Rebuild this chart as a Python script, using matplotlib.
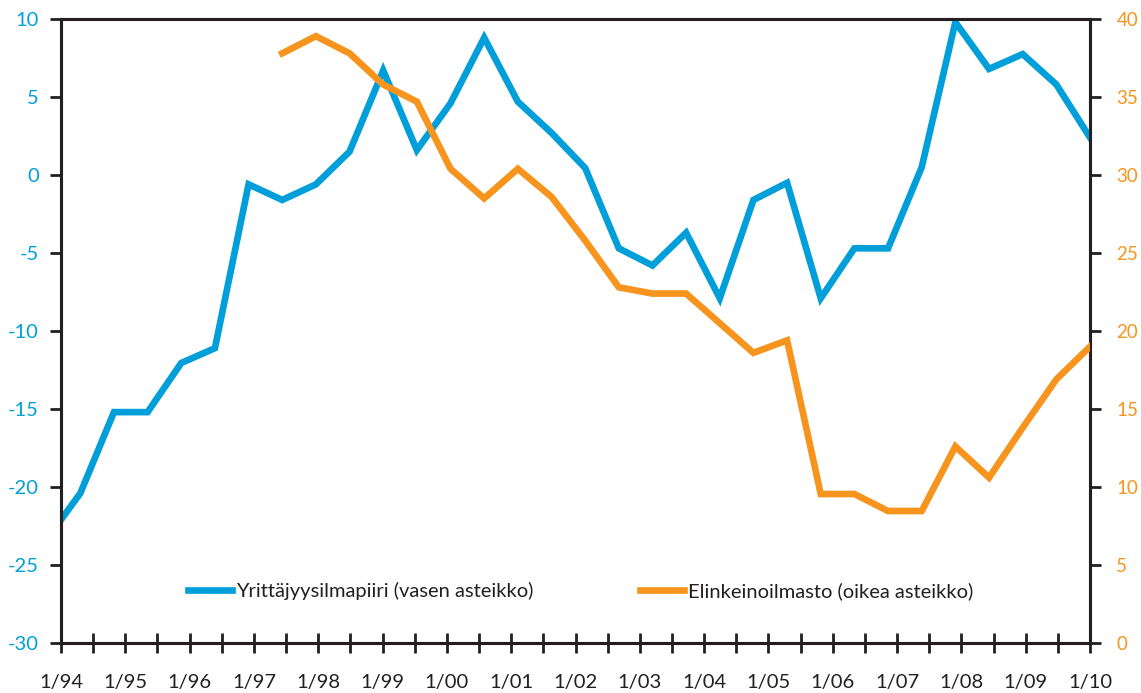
import numpy as np
import matplotlib
matplotlib.use("Agg")
import matplotlib.pyplot as plt

plt.rcParams['font.family'] = ['Lato', 'DejaVu Sans']

# x positions (years) of semi-annual observations
x_start, x_end = 1994.3, 2010.0
n_obs = 31
blue_first = (1994.0, -22.1)  # value where line meets the left axis
blue_vals = [-20.4, -15.2, -15.2, -12.05, -11.1, -0.6, -1.6, -0.6, 1.5, 6.7,
             1.6, 4.6, 8.8, 4.7, 2.7, 0.45, -4.7, -5.8, -3.7, -7.9,
             -1.6, -0.5, -7.9, -4.7, -4.7, 0.5, 9.8, 6.8, 7.75, 5.8, 2.4]
orange_start_idx = 6
orange_vals = [37.8, 38.9, 37.8, 35.8, 34.7, 30.4, 28.5, 30.4, 28.6, 25.8,
               22.8, 22.4, 22.4, 20.5, 18.6, 19.4, 9.55, 9.55, 8.46, 8.46,
               12.6, 10.6, 13.8, 16.9, 19.0]
year_labels = ["1/94", "1/95", "1/96", "1/97", "1/98", "1/99", "1/00", "1/01",
               "1/02", "1/03", "1/04", "1/05", "1/06", "1/07", "1/08", "1/09", "1/10"]
left_ticks = [10, 5, 0, -5, -10, -15, -20, -25, -30]
right_ticks = [40, 35, 30, 25, 20, 15, 10, 5, 0]
label_blue = "Yrittäjyysilmapiiri (vasen asteikko)"
label_orange = "Elinkeinoilmasto (oikea asteikko)"

BLUE = "#009FDA"
ORANGE = "#F7941D"

xs = np.linspace(x_start, x_end, n_obs)

fig = plt.figure(figsize=(11.41, 6.93), dpi=100)
ax = fig.add_axes([61/1141, 50/693, (1090-61)/1141, (643-19)/693])
ax2 = ax.twinx()

bx = np.concatenate([[blue_first[0]], xs])
by = np.concatenate([[blue_first[1]], blue_vals])
l1, = ax.plot(bx, by, color=BLUE, lw=4.8, solid_joinstyle='miter', label=label_blue, zorder=3)
l2, = ax2.plot(xs[orange_start_idx:orange_start_idx+len(orange_vals)], orange_vals,
               color=ORANGE, lw=4.8, solid_joinstyle='miter', label=label_orange, zorder=3)

ax.set_xlim(1994, 2010)
ax.set_ylim(-30, 10)
ax2.set_ylim(0, 40)

ax.set_xticks(np.arange(1994, 2011, 1))
ax.set_xticklabels(year_labels)
ax.set_xticks(np.arange(1994, 2010.01, 0.5), minor=True)
ax.tick_params(axis='x', which='both', direction='inout', length=15, width=2,
               color='#231F20', pad=15, labelsize=14.5, labelcolor='#231F20')

ax.set_yticks(left_ticks)
ax.set_yticklabels([str(t) for t in left_ticks])
ax.tick_params(axis='y', direction='out', length=8, width=2, color='#231F20',
               labelsize=14.5, labelcolor=BLUE, pad=8)
ax2.set_yticks(right_ticks)
ax2.set_yticklabels([str(t) for t in right_ticks])
ax2.tick_params(axis='y', direction='out', length=8, width=2, color='#231F20',
                labelsize=13.5, labelcolor=ORANGE, pad=11)

for a in (ax, ax2):
    for s in a.spines.values():
        s.set_color('#231F20')
        s.set_linewidth(2.2)

leg = ax.legend(handles=[l1, l2], loc='lower center', bbox_to_anchor=(0.505, 0.04),
                ncol=2, frameon=False, fontsize=14.5, handlelength=2.2,
                handletextpad=0.2, columnspacing=5.3)
for t in leg.get_texts():
    t.set_color('#231F20')

fig.savefig("out.png", dpi=100)
